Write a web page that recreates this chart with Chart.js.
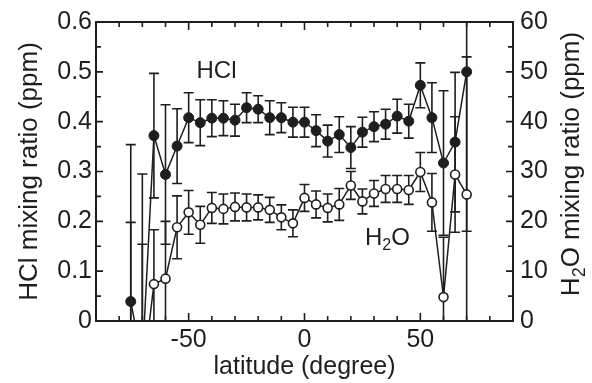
<!DOCTYPE html>
<html><head><meta charset="utf-8">
<script src="https://cdn.jsdelivr.net/npm/chart.js@4/dist/chart.umd.min.js"></script>
<style>html,body{margin:0;padding:0;background:#fff}canvas{display:block}</style>
</head><body>
<canvas id="c" width="592" height="383"></canvas>
<script>
// ---- data ----
const latitudes = [-75,-70,-65,-60,-55,-50,-45,-40,-35,-30,-25,-20,-15,-10,-5,0,5,10,15,20,25,30,35,40,45,50,55,60,65,70];
const hclValues = [0.039,-0.08,0.372,0.294,0.351,0.408,0.398,0.407,0.407,0.403,0.428,0.425,0.408,0.408,0.399,0.399,0.382,0.361,0.374,0.348,0.379,0.390,0.395,0.411,0.401,0.473,0.408,0.317,0.359,0.500];
const hclErrors = [0.315,0.375,0.125,0.14,0.075,0.05,0.046,0.037,0.035,0.032,0.03,0.027,0.034,0.03,0.03,0.03,0.032,0.032,0.036,0.042,0.03,0.03,0.03,0.034,0.034,0.045,0.07,0.145,0.14,0.32];
const h2oValues = [-5,-12,7.4,8.5,18.8,21.8,19.3,22.7,22.5,22.9,22.8,22.8,22.3,20.8,19.6,24.7,23.4,22.7,23.4,27.2,24.0,25.6,26.5,26.5,26.3,29.9,23.8,4.8,29.4,25.4];
const h2oErrors = [24.8,27.4,10.9,11.5,6.3,4.4,3.7,3.1,3.0,2.8,2.7,2.5,2.5,2.5,2.7,2.7,2.7,2.8,3.2,2.8,2.5,2.6,2.7,2.7,2.9,3.9,5.8,12,11.6,27.6];
const xTickLabels = [-50, 0, 50];
const hclTickLabels = [0, 0.1, 0.2, 0.3, 0.4, 0.5, 0.6];
const h2oTickLabels = [0, 10, 20, 30, 40, 50, 60];

const FONT = "'Liberation Sans', Arial, Helvetica, sans-serif";
const INK = '#1e1e1e';

const errorBars = {
  id: 'errorBars',
  beforeDatasetsDraw(chart) {
    const {ctx, chartArea: a, scales} = chart;
    ctx.save();
    ctx.beginPath();
    ctx.rect(a.left, a.top, a.right - a.left, a.bottom - a.top);
    ctx.clip();
    ctx.strokeStyle = INK;
    ctx.lineWidth = 1.6;
    const draw = (vals, errs, ys) => vals.forEach((v, i) => {
      const x = scales.x.getPixelForValue(latitudes[i]);
      const yt = ys.getPixelForValue(v + errs[i]);
      const yb = ys.getPixelForValue(v - errs[i]);
      ctx.beginPath();
      ctx.moveTo(x, yt); ctx.lineTo(x, yb);
      ctx.moveTo(x - 5, yt); ctx.lineTo(x + 5, yt);
      ctx.moveTo(x - 5, yb); ctx.lineTo(x + 5, yb);
      ctx.stroke();
    });
    draw(hclValues, hclErrors, scales.y);
    draw(h2oValues, h2oErrors, scales.y2);
    ctx.restore();
  }
};

const frame = {
  id: 'frame',
  afterDraw(chart) {
    const {ctx, chartArea: a, scales} = chart;
    ctx.save();
    ctx.strokeStyle = INK;
    ctx.lineWidth = 2;
    ctx.strokeRect(a.left, a.top, a.right - a.left, a.bottom - a.top);
    ctx.lineWidth = 1.6;
    ctx.beginPath();
    for (let v = -80; v <= 80; v += 10) {
      const x = scales.x.getPixelForValue(v);
      const len = v % 50 === 0 ? 8 : 5;
      ctx.moveTo(x, a.bottom); ctx.lineTo(x, a.bottom - len);
      ctx.moveTo(x, a.top); ctx.lineTo(x, a.top + len);
    }
    for (let k = 1; k < 12; k++) {
      const y = scales.y.getPixelForValue(k * 0.05);
      const len = k % 2 === 0 ? 7 : 5;
      ctx.moveTo(a.left, y); ctx.lineTo(a.left + len, y);
      ctx.moveTo(a.right, y); ctx.lineTo(a.right - len, y);
    }
    ctx.stroke();

    ctx.fillStyle = INK;
    // series annotations
    ctx.font = `24px ${FONT}`;
    ctx.textBaseline = 'middle';
    ctx.textAlign = 'center';
    ctx.fillText('HCl', scales.x.getPixelForValue(-38), scales.y.getPixelForValue(0.5));
    const hx = scales.x.getPixelForValue(35.8), hy = scales.y2.getPixelForValue(16.5);
    drawH2O(ctx, hx, hy, '', 24, 'center');

    // right axis title, reading bottom-to-top
    ctx.translate(572, 164);
    ctx.rotate(-Math.PI / 2);
    drawH2O(ctx, 0, 0, ' mixing ratio (ppm)', 26, 'center');
    ctx.restore();
  }
};

function drawH2O(ctx, x, y, tail, size, align) {
  const sub = Math.round(size * 0.68);
  ctx.textAlign = 'left';
  ctx.textBaseline = 'middle';
  ctx.font = `${size}px ${FONT}`;
  const wH = ctx.measureText('H').width;
  const wRest = ctx.measureText('O' + tail).width;
  ctx.font = `${sub}px ${FONT}`;
  const w2 = ctx.measureText('2').width;
  let sx = align === 'center' ? x - (wH + w2 + wRest) / 2 : x;
  ctx.font = `${size}px ${FONT}`;
  ctx.fillText('H', sx, y);
  ctx.font = `${sub}px ${FONT}`;
  ctx.fillText('2', sx + wH, y + size * 0.3);
  ctx.font = `${size}px ${FONT}`;
  ctx.fillText('O' + tail, sx + wH + w2, y);
}

const hclPoints = latitudes.map((x, i) => ({x, y: hclValues[i]}));
const h2oPoints = latitudes.map((x, i) => ({x, y: h2oValues[i]}));

new Chart(document.getElementById('c'), {
  type: 'line',
  data: {
    datasets: [
      {label: 'HCl', data: hclPoints, yAxisID: 'y', borderColor: INK, borderWidth: 1.5,
       pointRadius: 5, pointBackgroundColor: INK, pointBorderColor: INK, pointBorderWidth: 1, tension: 0},
      {label: 'H2O', data: h2oPoints, yAxisID: 'y2', borderColor: INK, borderWidth: 1.5,
       pointRadius: 4.5, pointBackgroundColor: '#fff', pointBorderColor: INK, pointBorderWidth: 1.6, tension: 0}
    ]
  },
  options: {
    responsive: false, animation: false, devicePixelRatio: 1,
    layout: {padding: {top: 22, left: 0, right: 0, bottom: 0}},
    plugins: {legend: {display: false}, tooltip: {enabled: false}},
    scales: {
      x: {
        type: 'linear', position: 'bottom', min: -90, max: 90,
        grid: {display: false, drawTicks: false}, border: {display: false},
        afterBuildTicks: s => { s.ticks = xTickLabels.map(v => ({value: v})); },
        afterFit: s => { s.height = 62; },
        ticks: {padding: 4, color: INK, autoSkip: false, maxRotation: 0, font: {family: FONT, size: 25},
                callback: v => String(v)},
        title: {display: true, text: 'latitude (degree)', color: INK, font: {family: FONT, size: 25},
                padding: {top: 0, bottom: 1}}
      },
      y: {
        type: 'linear', position: 'left', min: 0, max: 0.6,
        grid: {display: false, drawTicks: false}, border: {display: false},
        afterBuildTicks: s => { s.ticks = hclTickLabels.map(v => ({value: v})); },
        afterFit: s => { s.width = 96; },
        ticks: {padding: 4, color: INK, autoSkip: false, font: {family: FONT, size: 25}, callback: v => String(v)},
        title: {display: true, text: 'HCl mixing ratio (ppm)', color: INK, font: {family: FONT, size: 26},
                padding: {top: 14, bottom: 0}}
      },
      y2: {
        type: 'linear', position: 'right', min: 0, max: 60,
        grid: {display: false, drawTicks: false}, border: {display: false},
        afterBuildTicks: s => { s.ticks = h2oTickLabels.map(v => ({value: v})); },
        afterFit: s => { s.width = 79; },
        ticks: {padding: 7, color: INK, autoSkip: false, font: {family: FONT, size: 25}, callback: v => String(v)}
      }
    }
  },
  plugins: [errorBars, frame]
});
</script>
</body></html>
